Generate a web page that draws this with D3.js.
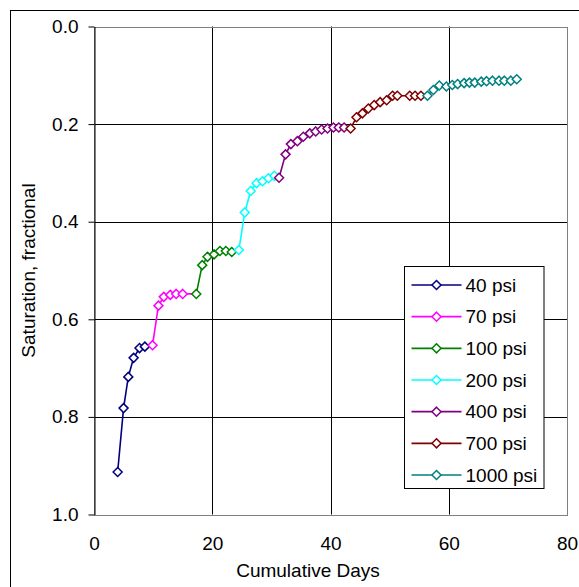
<!DOCTYPE html>
<html>
<head>
<meta charset="utf-8">
<script src="https://cdn.jsdelivr.net/npm/d3@7"></script>
<style>
  body { margin: 0; background: #fff; }
  svg { display: block; font-family: Arial, "Liberation Sans", sans-serif; }
</style>
</head>
<body>
<div id="chart"></div>
<script>
// series, in pressure order: [cumulative days, saturation]
const seriesNames = ['40 psi', '70 psi', '100 psi', '200 psi', '400 psi', '700 psi', '1000 psi'];
const seriesColors = ['#000080', '#FF00FF', '#008000', '#00FFFF', '#800080', '#800000', '#008080'];

const psi40 = [[4.0, 0.913], [5.0, 0.782], [5.8, 0.718], [6.7, 0.679], [7.7, 0.659], [8.6, 0.656]];
const psi70 = [[9.9, 0.653], [10.9, 0.572], [11.8, 0.554], [12.9, 0.550], [13.9, 0.548], [15.0, 0.548]];
const psi100 = [[17.3, 0.548], [18.3, 0.489], [19.2, 0.472], [20.3, 0.467], [21.3, 0.460], [22.3, 0.460], [23.3, 0.462]];
const psi200 = [[24.5, 0.458], [25.5, 0.381], [26.5, 0.337], [27.5, 0.321], [28.5, 0.317], [29.5, 0.311], [30.5, 0.306]];
const psi400 = [[31.3, 0.310], [32.4, 0.262], [33.3, 0.241], [34.4, 0.235], [35.4, 0.226], [36.5, 0.219],
                [37.5, 0.215], [38.5, 0.211], [39.5, 0.209], [40.5, 0.207], [41.4, 0.207], [42.3, 0.207]];
const psi700 = [[43.4, 0.209], [44.4, 0.186], [45.4, 0.178], [46.4, 0.168], [47.4, 0.161], [48.4, 0.155],
                [49.5, 0.151], [50.5, 0.142], [51.3, 0.142], [53.4, 0.142], [54.3, 0.142], [55.3, 0.142]];
const psi1000 = [[56.4, 0.142], [57.4, 0.130], [58.4, 0.121], [59.6, 0.123], [60.6, 0.120], [61.5, 0.118],
                 [62.6, 0.116], [63.5, 0.115], [64.4, 0.115], [65.5, 0.113], [66.4, 0.112], [67.4, 0.111],
                 [68.5, 0.111], [69.4, 0.111], [70.5, 0.111], [71.5, 0.108]];

const xTicks = [0, 20, 40, 60, 80];
const yTicks = [0.0, 0.2, 0.4, 0.6, 0.8, 1.0];

const allSeries = [psi40, psi70, psi100, psi200, psi400, psi700, psi1000];

const W = 579, H = 587;
const margin = { top: 26.5, right: 12, bottom: 72.5, left: 94 };
const fontSize = 19;

const svg = d3.select('#chart').append('svg')
    .attr('width', W)
    .attr('height', H);

// outer chart frame (only top and left fall inside the window)
svg.append('rect')
    .attr('x', 10.5).attr('y', 10.5)
    .attr('width', 600).attr('height', 600)
    .attr('fill', 'none')
    .attr('stroke', '#000')
    .attr('stroke-width', 1);

const x = d3.scaleLinear().domain([0, 80]).range([margin.left, W - margin.right]);
const y = d3.scaleLinear().domain([0, 1]).range([margin.top, H - margin.bottom]);

// gridlines
svg.append('g')
    .selectAll('line')
    .data(xTicks.slice(1, -1))
    .enter().append('line')
    .attr('x1', d => Math.round(x(d)) + 0.5).attr('x2', d => Math.round(x(d)) + 0.5)
    .attr('y1', y(0)).attr('y2', y(1))
    .attr('stroke', '#000');

svg.append('g')
    .selectAll('line')
    .data(yTicks.slice(1, -1))
    .enter().append('line')
    .attr('x1', x(0)).attr('x2', x(80))
    .attr('y1', d => Math.round(y(d)) + 0.5).attr('y2', d => Math.round(y(d)) + 0.5)
    .attr('stroke', '#000');

// plot border
svg.append('rect')
    .attr('x', Math.round(x(0)) + 0.5).attr('y', Math.round(y(0)) + 0.5)
    .attr('width', Math.round(x(80)) - Math.round(x(0)))
    .attr('height', Math.round(y(1)) - Math.round(y(0)))
    .attr('fill', 'none')
    .attr('stroke', '#808080');

// left axis line + ticks
const yAxis = d3.axisLeft(y)
    .tickValues(yTicks)
    .tickFormat(d3.format('.1f'))
    .tickSizeInner(6)
    .tickSizeOuter(0)
    .tickPadding(10);

const gy = svg.append('g')
    .attr('transform', `translate(${Math.round(x(0)) + 0.5},0)`)
    .call(yAxis);
gy.select('.domain').attr('stroke', '#000');
gy.selectAll('.tick line').attr('stroke', '#000');
gy.selectAll('text')
    .attr('font-size', fontSize)
    .attr('fill', '#000')
    .attr('font-family', 'Arial, "Liberation Sans", sans-serif');

// bottom tick labels
const xAxis = d3.axisBottom(x)
    .tickValues(xTicks)
    .tickSize(0)
    .tickPadding(21);

const gx = svg.append('g')
    .attr('transform', `translate(0,${Math.round(y(1)) + 0.5})`)
    .call(xAxis);
gx.select('.domain').remove();
gx.selectAll('text')
    .attr('font-size', fontSize)
    .attr('fill', '#000')
    .attr('font-family', 'Arial, "Liberation Sans", sans-serif');

// axis titles
svg.append('text')
    .attr('x', 308)
    .attr('y', 577)
    .attr('text-anchor', 'middle')
    .attr('font-size', fontSize)
    .text('Cumulative Days');

svg.append('text')
    .attr('transform', `translate(35,${(y(0) + y(1)) / 2}) rotate(-90)`)
    .attr('text-anchor', 'middle')
    .attr('font-size', fontSize)
    .text('Saturation, fractional');

const line = d3.line()
    .x(d => x(d[0]))
    .y(d => y(d[1]));

const diamond = 'M0,-4.5L4.5,0L0,4.5L-4.5,0Z';

// each series line runs on to the first point of the next one
allSeries.forEach((pts, i) => {
    const next = allSeries[i + 1];
    const linePts = next ? pts.concat([next[0]]) : pts;
    svg.append('path')
        .datum(linePts)
        .attr('d', line)
        .attr('fill', 'none')
        .attr('stroke', seriesColors[i])
        .attr('stroke-width', 1.6);
});

allSeries.forEach((pts, i) => {
    svg.append('g')
        .selectAll('path')
        .data(pts)
        .enter().append('path')
        .attr('d', diamond)
        .attr('transform', d => `translate(${x(d[0])},${y(d[1])})`)
        .attr('fill', '#fff')
        .attr('stroke', seriesColors[i])
        .attr('stroke-width', 1.5);
});

// legend
const lg = svg.append('g').attr('transform', 'translate(404.5,266.5)');
lg.append('rect')
    .attr('width', 139.5).attr('height', 222)
    .attr('fill', '#fff')
    .attr('stroke', '#000')
    .attr('stroke-width', 1);

const rowY = d3.scaleLinear().domain([0, 6]).range([18.5, 208.5]);

seriesNames.forEach((name, i) => {
    const g = lg.append('g').attr('transform', `translate(0,${rowY(i)})`);
    g.append('line')
        .attr('x1', 7).attr('x2', 57)
        .attr('stroke', seriesColors[i])
        .attr('stroke-width', 1.6);
    g.append('path')
        .attr('d', diamond)
        .attr('transform', 'translate(32,0)')
        .attr('fill', '#fff')
        .attr('stroke', seriesColors[i])
        .attr('stroke-width', 1.5);
    g.append('text')
        .attr('x', 61)
        .attr('dy', '0.35em')
        .attr('font-size', fontSize)
        .text(name);
});
</script>
</body>
</html>
